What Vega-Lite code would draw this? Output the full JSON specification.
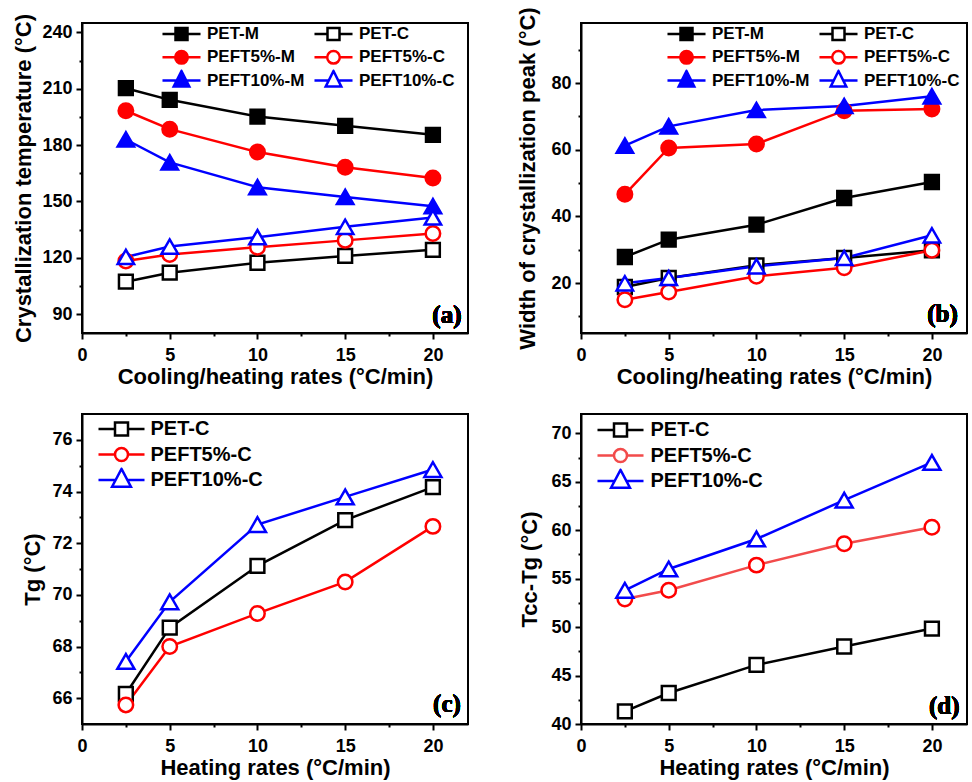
{
"$schema": "https://vega.github.io/schema/vega-lite/v6.json",
"background": "white",
"padding": {"left": 11, "top": 5, "right": 4, "bottom": 2},
"columns": 2,
"spacing": {"row": 81, "column": 113},
"bounds": "flush",
"resolve": {"scale": {"x": "independent", "y": "independent", "color": "independent"}, "legend": {"color": "independent"}},
"config": {
  "view": {"stroke": "black", "strokeWidth": 2},
  "axis": {"domainColor": "black", "domainWidth": 2, "tickColor": "black", "tickWidth": 2, "labelFont": "Liberation Sans", "labelFontWeight": "bold", "labelFontSize": 18, "labelColor": "black", "titleFont": "Liberation Sans", "titleFontWeight": "bold", "titleFontSize": 22, "titleColor": "black", "grid": false, "labelFlush": false, "labelOverlap": false, "tickCount": 100},
  "axisX": {"labelPadding": 7, "titlePadding": 2},
  "axisY": {"labelPadding": 4},
  "legend": {"labelFont": "Liberation Sans", "labelFontWeight": "bold", "labelColor": "black", "columnPadding": 7, "rowPadding": 1.3, "orient": "none", "labelLimit": 300}
},
"datasets": {
  "a": [
    {"rate": 2.5, "value": 210.3, "series": "PET-M"}, {"rate": 5, "value": 204.1, "series": "PET-M"}, {"rate": 10, "value": 195.2, "series": "PET-M"}, {"rate": 15, "value": 190.3, "series": "PET-M"}, {"rate": 20, "value": 185.5, "series": "PET-M"},
    {"rate": 2.5, "value": 107.3, "series": "PET-C"}, {"rate": 5, "value": 112.1, "series": "PET-C"}, {"rate": 10, "value": 117.4, "series": "PET-C"}, {"rate": 15, "value": 121.0, "series": "PET-C"}, {"rate": 20, "value": 124.3, "series": "PET-C"},
    {"rate": 2.5, "value": 198.3, "series": "PEFT5%-M"}, {"rate": 5, "value": 188.5, "series": "PEFT5%-M"}, {"rate": 10, "value": 176.3, "series": "PEFT5%-M"}, {"rate": 15, "value": 168.2, "series": "PEFT5%-M"}, {"rate": 20, "value": 162.5, "series": "PEFT5%-M"},
    {"rate": 2.5, "value": 118.3, "series": "PEFT5%-C"}, {"rate": 5, "value": 121.8, "series": "PEFT5%-C"}, {"rate": 10, "value": 125.7, "series": "PEFT5%-C"}, {"rate": 15, "value": 129.3, "series": "PEFT5%-C"}, {"rate": 20, "value": 133.0, "series": "PEFT5%-C"},
    {"rate": 2.5, "value": 183.0, "series": "PEFT10%-M"}, {"rate": 5, "value": 170.8, "series": "PEFT10%-M"}, {"rate": 10, "value": 157.6, "series": "PEFT10%-M"}, {"rate": 15, "value": 152.4, "series": "PEFT10%-M"}, {"rate": 20, "value": 147.5, "series": "PEFT10%-M"},
    {"rate": 2.5, "value": 120.5, "series": "PEFT10%-C"}, {"rate": 5, "value": 126.0, "series": "PEFT10%-C"}, {"rate": 10, "value": 131.0, "series": "PEFT10%-C"}, {"rate": 15, "value": 136.5, "series": "PEFT10%-C"}, {"rate": 20, "value": 141.5, "series": "PEFT10%-C"}
  ],
  "b": [
    {"rate": 2.5, "value": 27.8, "series": "PET-M"}, {"rate": 5, "value": 33.0, "series": "PET-M"}, {"rate": 10, "value": 37.5, "series": "PET-M"}, {"rate": 15, "value": 45.5, "series": "PET-M"}, {"rate": 20, "value": 50.3, "series": "PET-M"},
    {"rate": 2.5, "value": 18.8, "series": "PET-C"}, {"rate": 5, "value": 21.5, "series": "PET-C"}, {"rate": 10, "value": 25.3, "series": "PET-C"}, {"rate": 15, "value": 27.5, "series": "PET-C"}, {"rate": 20, "value": 29.8, "series": "PET-C"},
    {"rate": 2.5, "value": 46.6, "series": "PEFT5%-M"}, {"rate": 5, "value": 60.5, "series": "PEFT5%-M"}, {"rate": 10, "value": 61.7, "series": "PEFT5%-M"}, {"rate": 15, "value": 71.7, "series": "PEFT5%-M"}, {"rate": 20, "value": 72.2, "series": "PEFT5%-M"},
    {"rate": 2.5, "value": 15.0, "series": "PEFT5%-C"}, {"rate": 5, "value": 17.3, "series": "PEFT5%-C"}, {"rate": 10, "value": 22.0, "series": "PEFT5%-C"}, {"rate": 15, "value": 24.6, "series": "PEFT5%-C"}, {"rate": 20, "value": 29.8, "series": "PEFT5%-C"},
    {"rate": 2.5, "value": 61.2, "series": "PEFT10%-M"}, {"rate": 5, "value": 67.0, "series": "PEFT10%-M"}, {"rate": 10, "value": 71.9, "series": "PEFT10%-M"}, {"rate": 15, "value": 73.1, "series": "PEFT10%-M"}, {"rate": 20, "value": 76.0, "series": "PEFT10%-M"},
    {"rate": 2.5, "value": 19.9, "series": "PEFT10%-C"}, {"rate": 5, "value": 21.5, "series": "PEFT10%-C"}, {"rate": 10, "value": 25.0, "series": "PEFT10%-C"}, {"rate": 15, "value": 27.5, "series": "PEFT10%-C"}, {"rate": 20, "value": 34.3, "series": "PEFT10%-C"}
  ],
  "c": [
    {"rate": 2.5, "value": 66.17, "series": "PET-C"}, {"rate": 5, "value": 68.73, "series": "PET-C"}, {"rate": 10, "value": 71.12, "series": "PET-C"}, {"rate": 15, "value": 72.89, "series": "PET-C"}, {"rate": 20, "value": 74.17, "series": "PET-C"},
    {"rate": 2.5, "value": 65.74, "series": "PEFT5%-C"}, {"rate": 5, "value": 68.0, "series": "PEFT5%-C"}, {"rate": 10, "value": 69.28, "series": "PEFT5%-C"}, {"rate": 15, "value": 70.5, "series": "PEFT5%-C"}, {"rate": 20, "value": 72.65, "series": "PEFT5%-C"},
    {"rate": 2.5, "value": 67.42, "series": "PEFT10%-C"}, {"rate": 5, "value": 69.73, "series": "PEFT10%-C"}, {"rate": 10, "value": 72.72, "series": "PEFT10%-C"}, {"rate": 15, "value": 73.79, "series": "PEFT10%-C"}, {"rate": 20, "value": 74.85, "series": "PEFT10%-C"}
  ],
  "d": [
    {"rate": 2.5, "value": 41.3, "series": "PET-C"}, {"rate": 5, "value": 43.2, "series": "PET-C"}, {"rate": 10, "value": 46.1, "series": "PET-C"}, {"rate": 15, "value": 48.0, "series": "PET-C"}, {"rate": 20, "value": 49.85, "series": "PET-C"},
    {"rate": 2.5, "value": 52.9, "series": "PEFT5%-C"}, {"rate": 5, "value": 53.8, "series": "PEFT5%-C"}, {"rate": 10, "value": 56.4, "series": "PEFT5%-C"}, {"rate": 15, "value": 58.6, "series": "PEFT5%-C"}, {"rate": 20, "value": 60.3, "series": "PEFT5%-C"},
    {"rate": 2.5, "value": 53.8, "series": "PEFT10%-C"}, {"rate": 5, "value": 56.0, "series": "PEFT10%-C"}, {"rate": 10, "value": 59.1, "series": "PEFT10%-C"}, {"rate": 15, "value": 63.1, "series": "PEFT10%-C"}, {"rate": 20, "value": 67.0, "series": "PEFT10%-C"}
  ]
},
"concat": [
  {
    "width": 386, "height": 310,
    "data": {"name": "a"},
    "layer": [
      {"mark": {"type": "line", "strokeWidth": 2.5},
       "encoding": {
         "x": {"field": "rate", "type": "quantitative", "scale": {"domain": [0, 22], "nice": false, "zero": false}, "axis": {"title": "Cooling/heating rates (°C/min)", "format": "d", "values": [0, 2.5, 5, 7.5, 10, 12.5, 15, 17.5, 20], "labelExpr": "datum.value == 0 || datum.value == 5 || datum.value == 10 || datum.value == 15 || datum.value == 20 ? datum.label : ''", "tickSize": {"condition": {"test": "datum.value == 2.5 || datum.value == 7.5 || datum.value == 12.5 || datum.value == 17.5", "value": 3}, "value": 6}}},
         "y": {"field": "value", "type": "quantitative", "scale": {"domain": [80, 245], "nice": false, "zero": false}, "axis": {"title": "Crystallization temperature (°C)", "format": "d", "tickCount": 100, "values": [90, 105, 120, 135, 150, 165, 180, 195, 210, 225, 240], "labelExpr": "datum.value == 90 || datum.value == 120 || datum.value == 150 || datum.value == 180 || datum.value == 210 || datum.value == 240 ? datum.label : ''", "tickSize": {"condition": {"test": "datum.value == 105 || datum.value == 135 || datum.value == 165 || datum.value == 195 || datum.value == 225", "value": 3}, "value": 6}, "titlePadding": 6}},
         "color": {"field": "series", "type": "nominal",
           "scale": {"domain": ["PET-M", "PET-C", "PEFT5%-M", "PEFT5%-C", "PEFT10%-M", "PEFT10%-C"], "range": ["#000000", "#000000", "#ff0000", "#ff0000", "#0000ff", "#0000ff"]},
           "legend": {"title": null, "columns": 2, "direction": "horizontal", "legendX": 78, "legendY": 0, "clipHeight": 22, "labelFontSize": 17, "symbolSize": 144, "symbolOffset": 13, "labelOffset": 17,
             "encode": {"symbols": {"update": {
               "shape": {"signal": "datum.value === 'PET-M' ? 'M-3.17,0H3.17M-1,-1H1V1H-1Z' : datum.value === 'PET-C' ? 'M-3.17,0H-1M1,0H3.17M-1,-1H1V1H-1Z' : datum.value === 'PEFT5%-M' ? 'M-3.17,0H3.17M-1.05,0A1.05,1.05,0,1,0,1.05,0A1.05,1.05,0,1,0,-1.05,0Z' : datum.value === 'PEFT5%-C' ? 'M-3.17,0H-1.05M1.05,0H3.17M-1.05,0A1.05,1.05,0,1,0,1.05,0A1.05,1.05,0,1,0,-1.05,0Z' : datum.value === 'PEFT10%-M' ? 'M-3.17,0H3.17M0,-1.6L1.3,1H-1.3Z' : 'M-3.17,0H-0.8M0.8,0H3.17M0,-1.6L1.3,1H-1.3Z'"},
               "fill": {"signal": "datum.value === 'PET-M' ? '#000000' : datum.value === 'PEFT5%-M' ? '#ff0000' : datum.value === 'PEFT10%-M' ? '#0000ff' : '#ffffff'"},
               "stroke": {"signal": "indexof(datum.value, 'PET-') === 0 ? '#000000' : indexof(datum.value, 'PEFT5') === 0 ? '#ff0000' : '#0000ff'"},
               "strokeWidth": {"value": 2.5},
               "opacity": {"value": 1}
             }}}}}
       }},
      {"mark": {"type": "point", "strokeWidth": 2.5, "opacity": 1},
       "encoding": {
         "x": {"field": "rate", "type": "quantitative"},
         "y": {"field": "value", "type": "quantitative"},
         "shape": {"condition": [{"test": "indexof(datum.series, 'PET-') === 0", "value": "square"}, {"test": "indexof(datum.series, 'PEFT5') === 0", "value": "circle"}], "value": "triangle-up"},
         "size": {"condition": [{"test": "indexof(datum.series, 'PET-') === 0", "value": 190}, {"test": "indexof(datum.series, 'PEFT5') === 0", "value": 210}], "value": 270},
         "fill": {"condition": [{"test": "datum.series === 'PET-M'", "value": "#000000"}, {"test": "datum.series === 'PEFT5%-M'", "value": "#ff0000"}, {"test": "datum.series === 'PEFT10%-M'", "value": "#0000ff"}], "value": "#ffffff"},
         "stroke": {"condition": [{"test": "indexof(datum.series, 'PET-') === 0", "value": "#000000"}, {"test": "indexof(datum.series, 'PEFT5') === 0", "value": "#ff0000"}], "value": "#0000ff"}
       }},
      {"mark": {"type": "text", "font": "Liberation Serif", "fontWeight": "bold", "fontSize": 25, "align": "center", "baseline": "middle", "color": "black"},
       "encoding": {"x": {"datum": 20.8}, "y": {"datum": 89.6}, "text": {"value": "(a)"}}}
    ]
  },
  {
    "width": 386, "height": 310,
    "data": {"name": "b"},
    "layer": [
      {"mark": {"type": "line", "strokeWidth": 2.5},
       "encoding": {
         "x": {"field": "rate", "type": "quantitative", "scale": {"domain": [0, 22], "nice": false, "zero": false}, "axis": {"title": "Cooling/heating rates (°C/min)", "format": "d", "values": [0, 2.5, 5, 7.5, 10, 12.5, 15, 17.5, 20], "labelExpr": "datum.value == 0 || datum.value == 5 || datum.value == 10 || datum.value == 15 || datum.value == 20 ? datum.label : ''", "tickSize": {"condition": {"test": "datum.value == 2.5 || datum.value == 7.5 || datum.value == 12.5 || datum.value == 17.5", "value": 3}, "value": 6}}},
         "y": {"field": "value", "type": "quantitative", "scale": {"domain": [5, 98], "nice": false, "zero": false}, "axis": {"title": "Width of crystallization peak (°C)", "format": "d", "tickCount": 100, "values": [10, 20, 30, 40, 50, 60, 70, 80, 90], "labelExpr": "datum.value == 20 || datum.value == 40 || datum.value == 60 || datum.value == 80 ? datum.label : ''", "tickSize": {"condition": {"test": "datum.value == 10 || datum.value == 30 || datum.value == 50 || datum.value == 70 || datum.value == 90", "value": 3}, "value": 6}, "titlePadding": 11}},
         "color": {"field": "series", "type": "nominal",
           "scale": {"domain": ["PET-M", "PET-C", "PEFT5%-M", "PEFT5%-C", "PEFT10%-M", "PEFT10%-C"], "range": ["#000000", "#000000", "#ff0000", "#ff0000", "#0000ff", "#0000ff"]},
           "legend": {"title": null, "columns": 2, "direction": "horizontal", "legendX": 84, "legendY": 0, "clipHeight": 22, "labelFontSize": 17, "symbolSize": 144, "symbolOffset": 13, "labelOffset": 17,
             "encode": {"symbols": {"update": {
               "shape": {"signal": "datum.value === 'PET-M' ? 'M-3.17,0H3.17M-1,-1H1V1H-1Z' : datum.value === 'PET-C' ? 'M-3.17,0H-1M1,0H3.17M-1,-1H1V1H-1Z' : datum.value === 'PEFT5%-M' ? 'M-3.17,0H3.17M-1.05,0A1.05,1.05,0,1,0,1.05,0A1.05,1.05,0,1,0,-1.05,0Z' : datum.value === 'PEFT5%-C' ? 'M-3.17,0H-1.05M1.05,0H3.17M-1.05,0A1.05,1.05,0,1,0,1.05,0A1.05,1.05,0,1,0,-1.05,0Z' : datum.value === 'PEFT10%-M' ? 'M-3.17,0H3.17M0,-1.6L1.3,1H-1.3Z' : 'M-3.17,0H-0.8M0.8,0H3.17M0,-1.6L1.3,1H-1.3Z'"},
               "fill": {"signal": "datum.value === 'PET-M' ? '#000000' : datum.value === 'PEFT5%-M' ? '#ff0000' : datum.value === 'PEFT10%-M' ? '#0000ff' : '#ffffff'"},
               "stroke": {"signal": "indexof(datum.value, 'PET-') === 0 ? '#000000' : indexof(datum.value, 'PEFT5') === 0 ? '#ff0000' : '#0000ff'"},
               "strokeWidth": {"value": 2.5},
               "opacity": {"value": 1}
             }}}}}
       }},
      {"mark": {"type": "point", "strokeWidth": 2.5, "opacity": 1},
       "encoding": {
         "x": {"field": "rate", "type": "quantitative"},
         "y": {"field": "value", "type": "quantitative"},
         "shape": {"condition": [{"test": "indexof(datum.series, 'PET-') === 0", "value": "square"}, {"test": "indexof(datum.series, 'PEFT5') === 0", "value": "circle"}], "value": "triangle-up"},
         "size": {"condition": [{"test": "indexof(datum.series, 'PET-') === 0", "value": 190}, {"test": "indexof(datum.series, 'PEFT5') === 0", "value": 210}], "value": 270},
         "fill": {"condition": [{"test": "datum.series === 'PET-M'", "value": "#000000"}, {"test": "datum.series === 'PEFT5%-M'", "value": "#ff0000"}, {"test": "datum.series === 'PEFT10%-M'", "value": "#0000ff"}], "value": "#ffffff"},
         "stroke": {"condition": [{"test": "indexof(datum.series, 'PET-') === 0", "value": "#000000"}, {"test": "indexof(datum.series, 'PEFT5') === 0", "value": "#ff0000"}], "value": "#0000ff"}
       }},
      {"mark": {"type": "text", "font": "Liberation Serif", "fontWeight": "bold", "fontSize": 25, "align": "center", "baseline": "middle", "color": "black"},
       "encoding": {"x": {"datum": 20.6}, "y": {"datum": 10.8}, "text": {"value": "(b)"}}}
    ]
  },
  {
    "width": 386, "height": 310,
    "data": {"name": "c"},
    "layer": [
      {"mark": {"type": "line", "strokeWidth": 2.5},
       "encoding": {
         "x": {"field": "rate", "type": "quantitative", "scale": {"domain": [0, 22], "nice": false, "zero": false}, "axis": {"title": "Heating rates (°C/min)", "format": "d", "values": [0, 2.5, 5, 7.5, 10, 12.5, 15, 17.5, 20], "labelExpr": "datum.value == 0 || datum.value == 5 || datum.value == 10 || datum.value == 15 || datum.value == 20 ? datum.label : ''", "tickSize": {"condition": {"test": "datum.value == 2.5 || datum.value == 7.5 || datum.value == 12.5 || datum.value == 17.5", "value": 3}, "value": 6}}},
         "y": {"field": "value", "type": "quantitative", "scale": {"domain": [65, 77], "nice": false, "zero": false}, "axis": {"title": "Tg (°C)", "format": "d", "tickCount": 100, "values": [66, 67, 68, 69, 70, 71, 72, 73, 74, 75, 76], "labelExpr": "datum.value == 66 || datum.value == 68 || datum.value == 70 || datum.value == 72 || datum.value == 74 || datum.value == 76 ? datum.label : ''", "tickSize": {"condition": {"test": "datum.value == 67 || datum.value == 69 || datum.value == 71 || datum.value == 73 || datum.value == 75", "value": 3}, "value": 6}, "titlePadding": 7}},
         "color": {"field": "series", "type": "nominal",
           "scale": {"domain": ["PET-C", "PEFT5%-C", "PEFT10%-C"], "range": ["#000000", "#ff0000", "#0000ff"]},
           "legend": {"title": null, "columns": 1, "direction": "vertical", "legendX": 13, "legendY": 2.5, "clipHeight": 25, "labelFontSize": 20, "symbolSize": 169, "symbolOffset": 16.5, "labelOffset": 19, "rowPadding": 0.5,
             "encode": {"symbols": {"update": {
               "shape": {"signal": "datum.value === 'PET-C' ? 'M-3.54,0H-1M1,0H3.54M-1,-1H1V1H-1Z' : datum.value === 'PEFT5%-C' ? 'M-3.54,0H-1M1,0H3.54M-1,0A1,1,0,1,0,1,0A1,1,0,1,0,-1,0Z' : 'M-3.54,0H-0.88M0.88,0H3.54M0,-1.7L1.45,1.03H-1.45Z'"},
               "fill": {"value": "#ffffff"},
               "stroke": {"signal": "datum.value === 'PET-C' ? '#000000' : datum.value === 'PEFT5%-C' ? '#ff0000' : '#0000ff'"},
               "strokeWidth": {"value": 2.5},
               "opacity": {"value": 1}
             }}}}}
       }},
      {"mark": {"type": "point", "strokeWidth": 2.5, "opacity": 1},
       "encoding": {
         "x": {"field": "rate", "type": "quantitative"},
         "y": {"field": "value", "type": "quantitative"},
         "shape": {"condition": [{"test": "datum.series === 'PET-C'", "value": "square"}, {"test": "datum.series === 'PEFT5%-C'", "value": "circle"}], "value": "triangle-up"},
         "size": {"condition": [{"test": "datum.series === 'PET-C'", "value": 190}, {"test": "datum.series === 'PEFT5%-C'", "value": 210}], "value": 290},
         "fill": {"value": "#ffffff"},
         "stroke": {"condition": [{"test": "datum.series === 'PET-C'", "value": "#000000"}, {"test": "datum.series === 'PEFT5%-C'", "value": "#ff0000"}], "value": "#0000ff"}
       }},
      {"mark": {"type": "text", "font": "Liberation Serif", "fontWeight": "bold", "fontSize": 25, "align": "center", "baseline": "middle", "color": "black"},
       "encoding": {"x": {"datum": 20.8}, "y": {"datum": 65.76}, "text": {"value": "(c)"}}}
    ]
  },
  {
    "width": 386, "height": 310,
    "data": {"name": "d"},
    "layer": [
      {"mark": {"type": "line", "strokeWidth": 2.5},
       "encoding": {
         "x": {"field": "rate", "type": "quantitative", "scale": {"domain": [0, 22], "nice": false, "zero": false}, "axis": {"title": "Heating rates (°C/min)", "format": "d", "values": [0, 2.5, 5, 7.5, 10, 12.5, 15, 17.5, 20], "labelExpr": "datum.value == 0 || datum.value == 5 || datum.value == 10 || datum.value == 15 || datum.value == 20 ? datum.label : ''", "tickSize": {"condition": {"test": "datum.value == 2.5 || datum.value == 7.5 || datum.value == 12.5 || datum.value == 17.5", "value": 3}, "value": 6}}},
         "y": {"field": "value", "type": "quantitative", "scale": {"domain": [40, 72], "nice": false, "zero": false}, "axis": {"title": "Tcc-Tg (°C)", "format": "d", "tickCount": 100, "values": [40, 42.5, 45, 47.5, 50, 52.5, 55, 57.5, 60, 62.5, 65, 67.5, 70], "labelExpr": "datum.value == 40 || datum.value == 45 || datum.value == 50 || datum.value == 55 || datum.value == 60 || datum.value == 65 || datum.value == 70 ? datum.label : ''", "tickSize": {"condition": {"test": "datum.value == 42.5 || datum.value == 47.5 || datum.value == 52.5 || datum.value == 57.5 || datum.value == 62.5 || datum.value == 67.5", "value": 3}, "value": 6}, "titlePadding": 9}},
         "color": {"field": "series", "type": "nominal",
           "scale": {"domain": ["PET-C", "PEFT5%-C", "PEFT10%-C"], "range": ["#000000", "#f24b4b", "#0000ff"]},
           "legend": {"title": null, "columns": 1, "direction": "vertical", "legendX": 13, "legendY": 3.5, "clipHeight": 25, "labelFontSize": 20, "symbolSize": 169, "symbolOffset": 16.5, "labelOffset": 20, "rowPadding": 0.5,
             "encode": {"symbols": {"update": {
               "shape": {"signal": "datum.value === 'PET-C' ? 'M-3.54,0H-1M1,0H3.54M-1,-1H1V1H-1Z' : datum.value === 'PEFT5%-C' ? 'M-3.54,0H-1M1,0H3.54M-1,0A1,1,0,1,0,1,0A1,1,0,1,0,-1,0Z' : 'M-3.54,0H-0.88M0.88,0H3.54M0,-1.7L1.45,1.03H-1.45Z'"},
               "fill": {"value": "#ffffff"},
               "stroke": {"signal": "datum.value === 'PET-C' ? '#000000' : datum.value === 'PEFT5%-C' ? '#ff2020' : '#0000ff'"},
               "strokeWidth": {"value": 2.5},
               "opacity": {"value": 1}
             }}}}}
       }},
      {"mark": {"type": "point", "strokeWidth": 2.5, "opacity": 1},
       "encoding": {
         "x": {"field": "rate", "type": "quantitative"},
         "y": {"field": "value", "type": "quantitative"},
         "shape": {"condition": [{"test": "datum.series === 'PET-C'", "value": "square"}, {"test": "datum.series === 'PEFT5%-C'", "value": "circle"}], "value": "triangle-up"},
         "size": {"condition": [{"test": "datum.series === 'PET-C'", "value": 190}, {"test": "datum.series === 'PEFT5%-C'", "value": 210}], "value": 290},
         "fill": {"value": "#ffffff"},
         "stroke": {"condition": [{"test": "datum.series === 'PET-C'", "value": "#000000"}, {"test": "datum.series === 'PEFT5%-C'", "value": "#ff0000"}], "value": "#0000ff"}
       }},
      {"mark": {"type": "text", "font": "Liberation Serif", "fontWeight": "bold", "fontSize": 25, "align": "center", "baseline": "middle", "color": "black"},
       "encoding": {"x": {"datum": 20.7}, "y": {"datum": 41.9}, "text": {"value": "(d)"}}}
    ]
  }
]
}
